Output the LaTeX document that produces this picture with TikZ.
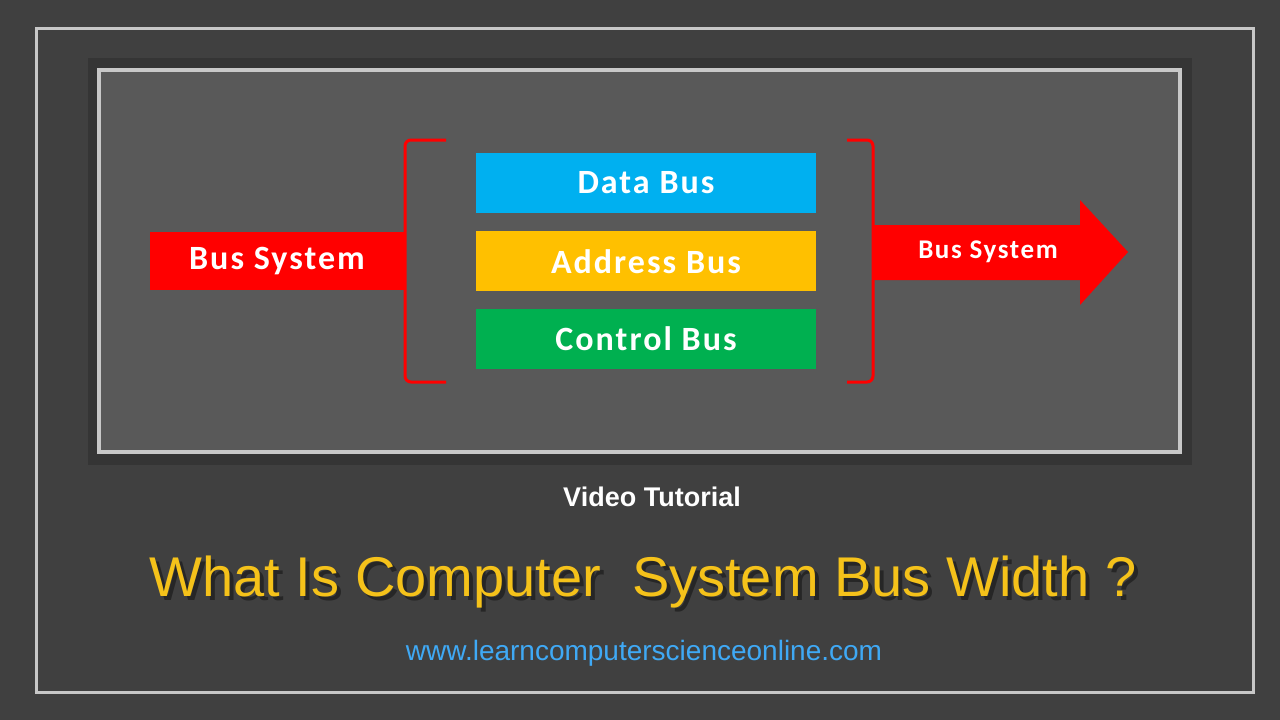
\documentclass[tikz,border=0pt]{standalone}
\usepackage{fontspec}
\setmainfont{Liberation Sans}
\newfontfamily\boxfont[LetterSpace=6]{Carlito}
\usetikzlibrary{positioning}
\definecolor{bgdark}{HTML}{404040}
\definecolor{paneldark}{HTML}{353535}
\definecolor{panelgray}{HTML}{595959}
\definecolor{framegray}{HTML}{C8C8C8}
\definecolor{busred}{HTML}{FF0000}
\definecolor{datablue}{HTML}{00B0F0}
\definecolor{addryellow}{HTML}{FFC000}
\definecolor{ctrlgreen}{HTML}{00B050}
\definecolor{titlegold}{HTML}{F5C21A}
\definecolor{urlblue}{HTML}{3FA9F5}
\begin{document}
\begin{tikzpicture}[x=1pt, y=-1pt]
	\tikzset{busbox/.style={minimum width=340pt, minimum height=60pt, inner sep=0pt, text=white, font=\boxfont\bfseries\fontsize{34}{38}\selectfont},
		bracket/.style={draw=busred, line width=3pt, rounded corners=6pt},
		titletext/.style={font=\fontsize{56}{62}\selectfont}}
	% background and frames
	\fill[bgdark] (0,0) rectangle (1280,720);
	\useasboundingbox (0,0) rectangle (1280,720);
	\draw[framegray, line width=3pt] (36,28) rectangle (1253,692);
	\fill[paneldark] (88,58) rectangle (1192,465);
	\draw[framegray, line width=4pt, fill=panelgray] (99,70) rectangle (1180,452);

	% buses
	\node[busbox, fill=datablue] (data) at (646,183) {Data Bus};
	\node[busbox, fill=addryellow, below=18pt of data] (addr) {Address Bus};
	\node[busbox, fill=ctrlgreen, below=17pt of addr] (ctrl) {Control Bus};

	% brackets
	\draw[bracket] (446,140) -- (405,140) -- (405,382) -- (446,382);
	\draw[bracket] (847,140) -- (873,140) -- (873,382) -- (847,382);

	% input and output
	\node[fill=busred, minimum width=255pt, minimum height=58pt, inner sep=0pt, text=white,
		font=\boxfont\bfseries\fontsize{34}{38}\selectfont] (busin) at (277,261) {Bus System};
	\fill[busred] (873,225) -- (1080,225) -- (1080,200) -- (1128,252) -- (1080,305) -- (1080,280) -- (873,280) -- cycle;
	\node[text=white, font=\boxfont\bfseries\fontsize{27}{30}\selectfont] (busout) at (988,252) {Bus System};

	% captions
	\node[text=white, font=\bfseries\fontsize{27}{30}\selectfont] (video) at (652,497) {Video Tutorial};
	\node[titletext, text=black!85] (shadow) at (647,586) {What Is Computer\ \ System Bus Width ?};
	\node[titletext, text=titlegold] (title) at (643,582) {What Is Computer\ \ System Bus Width ?};
	\node[text=urlblue, font=\fontsize{28}{32}\selectfont] (url) at (644,653) {www.learncomputerscienceonline.com};
\end{tikzpicture}
\end{document}
